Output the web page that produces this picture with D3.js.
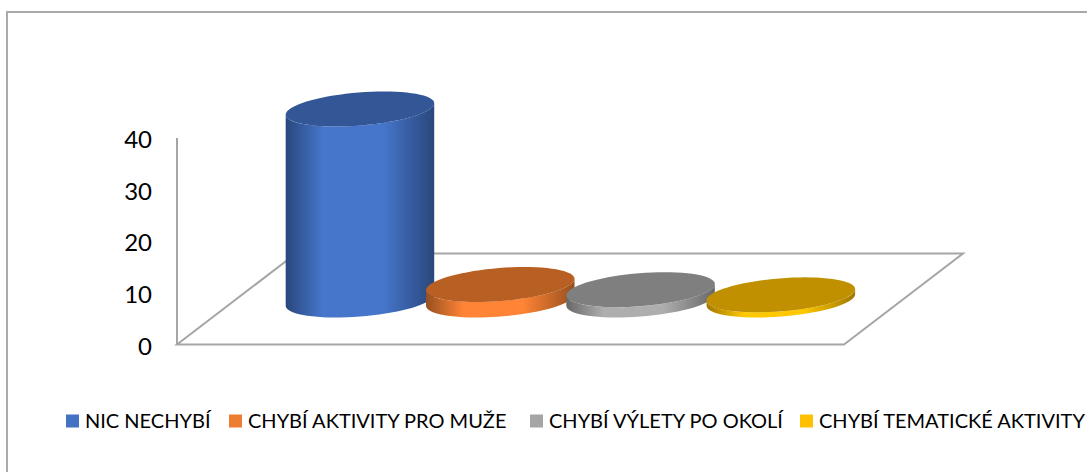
<!DOCTYPE html>
<html>
<head>
<meta charset="utf-8">
<script src="https://cdn.jsdelivr.net/npm/d3@7"></script>
<style>
  html, body { margin: 0; padding: 0; background: #fff; }
  text { font-family: Lato, "Open Sans", sans-serif; fill: #000; }
</style>
</head>
<body>
<div id="chart"></div>
<script>
var categories = ["NIC NECHYBÍ", "CHYBÍ AKTIVITY PRO MUŽE", "CHYBÍ VÝLETY PO OKOLÍ", "CHYBÍ TEMATICKÉ AKTIVITY"];
var values = [37, 3, 2, 1];
var yTicks = [0, 10, 20, 30, 40];
var sideEdge = ["#29477c", "#96501f", "#686868", "#a07800"];
var sideMid = ["#4676cc", "#ff8435", "#aeaeae", "#ffc800"];
var topFill = ["#335796", "#b86023", "#7f7f7f", "#c09000"];
var swatch = ["#4472c4", "#ed7d31", "#a5a5a5", "#ffc000"];
var legendX = [66, 229, 530, 800];

var width = 1087,
    height = 472;

var svg = d3.select("#chart")
    .append("svg")
    .attr("width", width)
    .attr("height", height)
    .style("display", "block");

var defs = svg.append("defs");

// frame of the chart, it runs off the picture at the bottom and on the right
svg.append("path")
    .attr("d", "M7,473V12H1088")
    .attr("fill", "none")
    .attr("stroke", "#aaaaaa")
    .attr("stroke-width", 2);

var y = d3.scaleLinear().domain([0, 40]).range([344.5, 138]);

// categories sit on the middle of the floor, not on the front edge
var x = d3.scaleBand().domain(categories).range([289.8, 851]);

var floorLeft = 177,
    floorRight = 844,
    depthX = 119,
    depthY = 91,
    baseY = 300;

/* ------- AXIS AND FLOOR -------*/

var grid = svg.append("g")
    .attr("fill", "none")
    .attr("stroke", "#a6a6a6")
    .attr("stroke-width", 2);

grid.append("path")
    .attr("d", "M" + floorLeft + "," + y(40) + "V" + y(0));

grid.append("path")
    .attr("d", "M" + floorLeft + "," + y(0) + "H" + floorRight +
        "L" + (floorRight + depthX) + "," + (y(0) - depthY) +
        "H" + (floorLeft + depthX) + "Z");

svg.append("g")
    .selectAll("text")
    .data(yTicks)
    .enter()
    .append("text")
    .attr("x", 152)
    .attr("y", function (d) { return y(d) + 1; })
    .attr("dy", ".38em")
    .attr("text-anchor", "end")
    .style("font-size", "24px")
    .text(function (d) { return d; });

/* ------- CYLINDERS -------*/

var rx = 74.5,
    ry = 16.5,
    tilt = -4.6 * Math.PI / 180;

// point of the tilted ellipse at parameter t
function ellipsePoint(cx, cy, t) {
    var px = rx * Math.cos(t),
        py = ry * Math.sin(t);
    return [cx + px * Math.cos(tilt) - py * Math.sin(tilt),
            cy + px * Math.sin(tilt) + py * Math.cos(tilt)];
}

// t of the right silhouette point, the left one is half a turn further
var edgeT = Math.atan2(-ry * Math.sin(tilt), rx * Math.cos(tilt));

var line = d3.line();

function fullEllipse(cx, cy) {
    return line(d3.range(0, 73).map(function (i) {
        return ellipsePoint(cx, cy, i * Math.PI / 36);
    })) + "Z";
}

function sidePath(cx, cyTop, cyBase) {
    var pts = [];
    d3.range(0, 37).forEach(function (i) {
        pts.push(ellipsePoint(cx, cyBase, edgeT + i * Math.PI / 36));
    });
    d3.range(36, -1, -1).forEach(function (i) {
        pts.push(ellipsePoint(cx, cyTop, edgeT + i * Math.PI / 36));
    });
    return line(pts) + "Z";
}

categories.forEach(function (c, i) {
    var grad = defs.append("linearGradient")
        .attr("id", "side" + i);
    [[0, sideEdge[i]], [0.25, sideMid[i]], [0.65, sideMid[i]], [1, sideEdge[i]]].forEach(function (s) {
        grad.append("stop")
            .attr("offset", s[0])
            .attr("stop-color", s[1]);
    });
});

var bars = svg.append("g")
    .selectAll("g")
    .data(categories)
    .enter()
    .append("g");

function centerX(c) { return x(c) + x.bandwidth() / 2; }
function topY(i) { return baseY - (y(0) - y(values[i])); }

bars.append("path")
    .attr("d", function (c, i) { return sidePath(centerX(c), topY(i), baseY); })
    .attr("fill", function (c, i) { return "url(#side" + i + ")"; });

bars.append("path")
    .attr("d", function (c, i) { return fullEllipse(centerX(c), topY(i)); })
    .attr("fill", function (c, i) { return topFill[i]; });

/* ------- LEGEND -------*/

var legend = svg.append("g")
    .selectAll("g")
    .data(categories)
    .enter()
    .append("g")
    .attr("transform", function (c, i) { return "translate(" + legendX[i] + ",421)"; });

legend.append("rect")
    .attr("y", -6.5)
    .attr("width", 13)
    .attr("height", 13)
    .attr("fill", function (c, i) { return swatch[i]; });

legend.append("text")
    .attr("x", 19)
    .attr("dy", ".36em")
    .style("font-size", "20px")
    .text(function (c) { return c; });
</script>
</body>
</html>
